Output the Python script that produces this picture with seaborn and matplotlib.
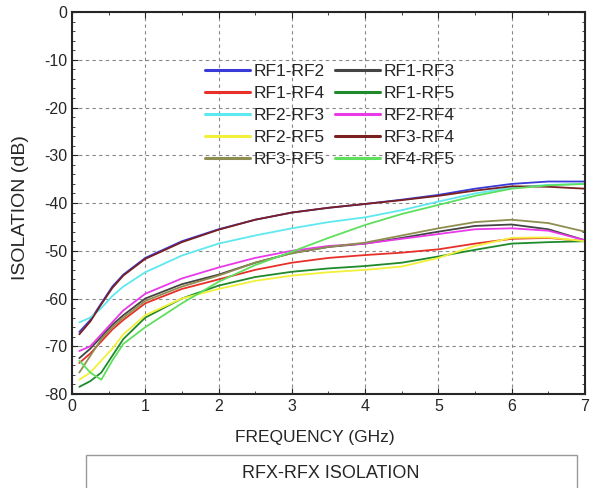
import seaborn as sns
import matplotlib.pyplot as plt
import pandas as pd
from matplotlib.patches import Rectangle
from matplotlib.ticker import MultipleLocator

freq = [0.1, 0.25, 0.4, 0.55, 0.7, 1, 1.5, 2, 2.5, 3, 3.5, 4, 4.5, 5, 5.5, 6, 6.5, 7]

rf1_rf2 = [-67, -64.5, -61, -57.5, -55, -51.5, -48, -45.5, -43.5, -42, -41, -40.2, -39.3, -38.3, -37, -36, -35.5, -35.5]
rf1_rf3 = [-72.5, -70.5, -68, -65.5, -63.5, -60, -57, -55, -52.5, -50.5, -49.2, -48.5, -47.3, -46, -44.8, -44.5, -45.5, -47.8]
rf1_rf4 = [-73.5, -71.5, -69, -66.5, -64.5, -61, -58, -56, -54, -52.5, -51.5, -50.9, -50.4, -49.7, -48.5, -47.5, -47.3, -48]
rf1_rf5 = [-78.5, -77.3, -75.5, -72, -68.5, -64, -60, -57.3, -55.5, -54.4, -53.7, -53.2, -52.5, -51.2, -49.8, -48.5, -48.2, -48]
rf2_rf3 = [-65, -64, -62, -59.5, -57.5, -54.5, -51, -48.5, -46.8, -45.3, -44, -43, -41.5, -39.7, -38, -36.8, -36.2, -36]
rf2_rf4 = [-71, -70, -67.5, -65, -62.5, -59, -55.8, -53.5, -51.5, -50, -49, -48.5, -47.5, -46.5, -45.5, -45.3, -45.8, -47.8]
rf2_rf5 = [-77, -75.5, -73, -70.5, -67.5, -63.5, -60, -58, -56.3, -55.2, -54.5, -54, -53.3, -51.5, -49, -47.3, -47.2, -48]
rf3_rf4 = [-67.5, -64.8, -61.2, -57.8, -55.2, -51.7, -48.2, -45.6, -43.5, -42, -41, -40.2, -39.4, -38.5, -37.4, -36.5, -36.6, -37]
rf3_rf5 = [-75.5, -72, -68.5, -66, -64, -60.5, -57.5, -55.2, -52.5, -50.5, -49.2, -48.3, -46.8, -45.3, -44, -43.5, -44.2, -46]
rf4_rf5 = [-73, -75.5, -77, -73, -69.5, -66, -61, -56.5, -53, -50.2, -47.3, -44.6, -42.3, -40.4, -38.5, -37, -36.3, -36]

names = ['RF1-RF2', 'RF1-RF3', 'RF1-RF4', 'RF1-RF5', 'RF2-RF3',
         'RF2-RF4', 'RF2-RF5', 'RF3-RF4', 'RF3-RF5', 'RF4-RF5']
series = [rf1_rf2, rf1_rf3, rf1_rf4, rf1_rf5, rf2_rf3,
          rf2_rf4, rf2_rf5, rf3_rf4, rf3_rf5, rf4_rf5]
colors = ['#3a3ad8', '#444444', '#e8302a', '#1f8a2a', '#5ee8f0',
          '#e83ae8', '#f2f03a', '#7a2020', '#8e8e50', '#5ee05e']

df = pd.concat([pd.DataFrame({'freq': freq, 'iso': s, 'pair': n})
                for n, s in zip(names, series)], ignore_index=True)

sns.set_style('ticks')
plt.rcParams['font.family'] = ['Liberation Sans', 'DejaVu Sans']
plt.rcParams['axes.unicode_minus'] = False

fig = plt.figure(figsize=(5.94, 4.88), dpi=100)
ax = fig.add_axes([0.1212, 0.1926, 0.8636, 0.7828])

sns.lineplot(data=df, x='freq', y='iso', hue='pair', hue_order=names,
             palette=dict(zip(names, colors)), linewidth=1.3, ax=ax,
             sort=False, estimator=None)

ax.set_xlim(0, 7)
ax.set_ylim(-80, 0)
ax.xaxis.set_major_locator(MultipleLocator(1))
ax.xaxis.set_minor_locator(MultipleLocator(0.5))
ax.yaxis.set_major_locator(MultipleLocator(10))
ax.yaxis.set_minor_locator(MultipleLocator(2))
ax.tick_params(which='both', direction='in', top=True, right=True, labelsize=11.5)
ax.tick_params(which='major', length=4)
ax.tick_params(which='minor', length=2)
ax.grid(True, which='major', linestyle=(0, (3, 3)), color='#888888', linewidth=0.8)
for sp in ax.spines.values():
    sp.set_linewidth(1.5)

ax.set_xlabel('FREQUENCY (GHz)', fontsize=12.5)
ax.set_ylabel('ISOLATION (dB)', fontsize=14)
ax.xaxis.set_label_coords(0.474, -0.095)
ax.yaxis.set_label_coords(-0.083, 0.487)

# legend fills row by row in the reference
h, l = ax.get_legend_handles_labels()
order = [0, 2, 4, 6, 8, 1, 3, 5, 7, 9]
h = [h[i] for i in order]
l = [l[i] for i in order]
leg = ax.legend(h, l, ncol=2, frameon=False, loc='upper center',
                bbox_to_anchor=(0.503, 0.865), borderaxespad=0, borderpad=0,
                fontsize=12.5, handlelength=2.6, handletextpad=0.2,
                columnspacing=0.6, labelspacing=0.4)
for line in leg.get_lines():
    line.set_linewidth(2.2)

fig.patches.append(Rectangle((0.1448, -0.05), 0.8266, 0.1176, transform=fig.transFigure,
                             fill=False, edgecolor='#999999', linewidth=1.0))
fig.text(0.557, 0.029, 'RFX-RFX ISOLATION', ha='center', va='center', fontsize=13)

fig.savefig('out.png', dpi=100)
